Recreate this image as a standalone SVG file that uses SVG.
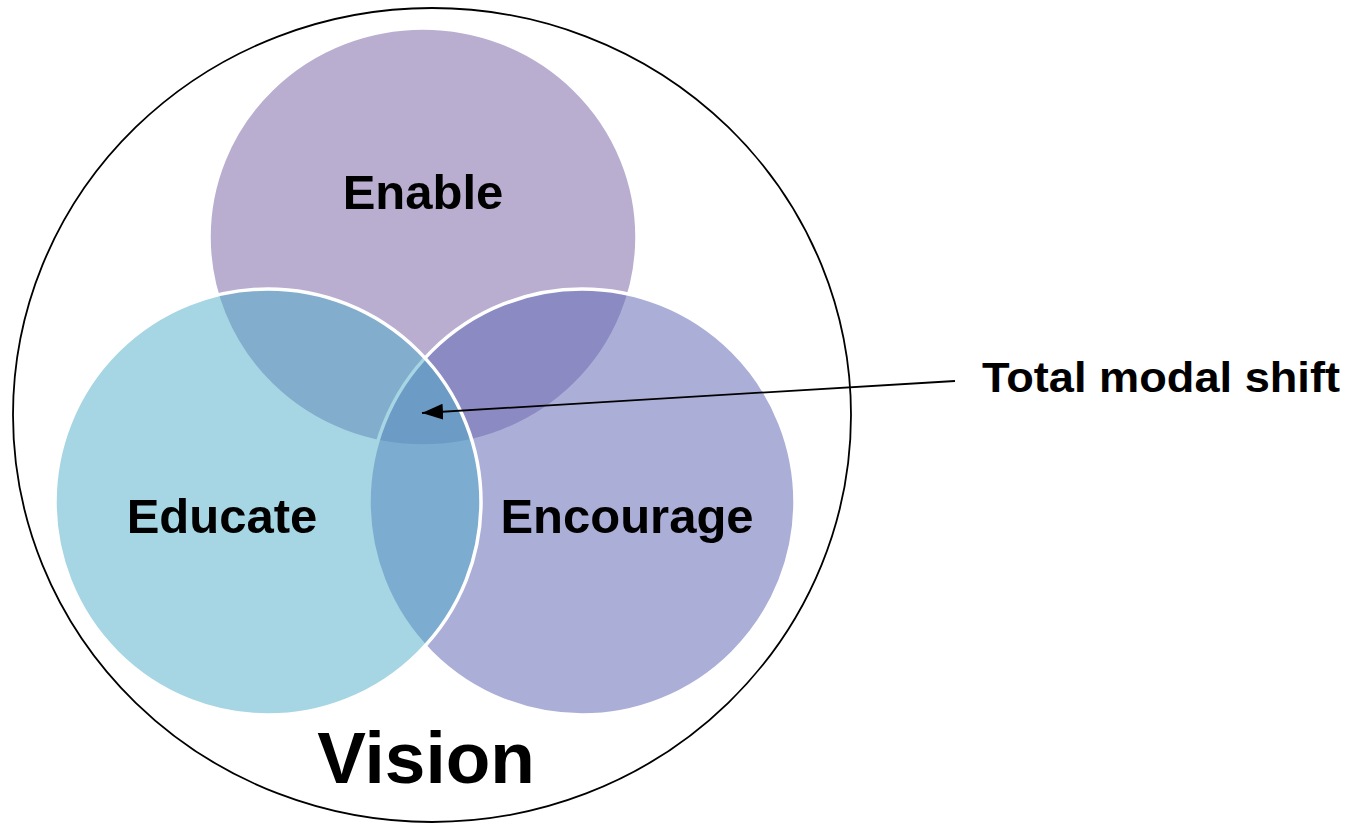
<svg xmlns="http://www.w3.org/2000/svg" width="1350" height="826" viewBox="0 0 1350 826">
<style>
.set{stroke:#ffffff;stroke-width:3.5}
.lbl{font-family:"Liberation Sans",Arial,sans-serif;font-weight:bold;fill:#000;text-anchor:middle}
</style>
<defs>
<marker id="ah" markerWidth="21" markerHeight="16" refX="21" refY="8" orient="auto" markerUnits="userSpaceOnUse">
<path d="M0,0 L21,8 L0,16 Z" fill="#000"/>
</marker>
</defs>
<rect width="1350" height="826" fill="#fff"/>
<g id="vision">
<ellipse cx="432" cy="415" rx="419" ry="407" fill="none" stroke="#000" stroke-width="1.8"/>
<text class="lbl" x="426" y="783" font-size="73">Vision</text>
</g>
<g id="enable">
<ellipse class="set" cx="423" cy="237" rx="214" ry="209" fill="#b9aed0"/>
</g>
<g id="encourage">
<circle class="set" cx="582" cy="502" r="213" fill="#666eb8" fill-opacity="0.55"/>
</g>
<g id="educate">
<circle class="set" cx="268" cy="502" r="213" fill="#4dabc7" fill-opacity="0.5"/>
</g>
<g id="labels">
<text class="lbl" x="423" y="209" font-size="49">Enable</text>
<text class="lbl" x="222" y="533" font-size="49">Educate</text>
<text class="lbl" x="627" y="533" font-size="49">Encourage</text>
</g>
<g id="total">
<text class="lbl" x="1161" y="392" font-size="42" textLength="358" lengthAdjust="spacingAndGlyphs">Total modal shift</text>
</g>
<g id="connectors">
<line x1="955" y1="381" x2="422" y2="413" stroke="#000" stroke-width="1.8" marker-end="url(#ah)"/>
</g>
</svg>
